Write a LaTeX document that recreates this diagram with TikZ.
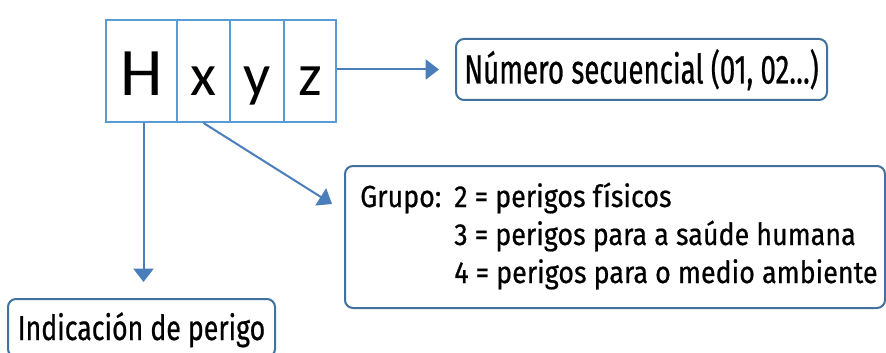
\documentclass[tikz,border=0pt]{standalone}
\usepackage{fontspec}
\setmainfont{Fira Sans}
\newfontfamily\numfont[FakeStretch=0.68, FakeBold=0.6]{Fira Sans}
\newfontfamily\indfont[FakeStretch=0.77, FakeBold=0.6]{Fira Sans}
\newfontfamily\grpfont[FakeStretch=0.88, FakeBold=0.6]{Fira Sans}
\newfontfamily\cellfont{Carlito}
\usetikzlibrary{arrows.meta}
\newdimen\pxu \pxu=0.75pt
\definecolor{cellblue}{HTML}{5B9BD5}
\definecolor{arrowblue}{HTML}{4A7EBB}
\definecolor{boxblue}{HTML}{41719C}
\begin{document}
\begin{tikzpicture}[x=0.75pt,y=-0.75pt,
  cell/.style={draw=cellblue, line width=1.5pt, inner sep=0pt, minimum height=102\pxu,
    text height=50\pxu, text depth=0pt, anchor=north west},
  bigletter/.style={font=\cellfont\fontsize{51}{51}\selectfont},
  smallletter/.style={font=\cellfont\fontsize{45}{45}\selectfont},
  rbox/.style={draw=boxblue, line width=1.5pt, rounded corners=8\pxu, inner sep=0pt},
  conn/.style={draw=arrowblue, line width=1.5pt, -{Triangle[length=10pt,width=15pt]}}]
\useasboundingbox (0,0) rectangle (886,353);
% code table
\node[cell, bigletter, minimum width=71\pxu] (H) at (105,19) {H};
\node[cell, smallletter, minimum width=53\pxu] (x) at (176,19) {x};
\node[cell, smallletter, minimum width=54\pxu] (y) at (229,19) {y};
\node[cell, smallletter, minimum width=52\pxu] (z) at (283,19) {z};
% boxes
\node[rbox, minimum width=371\pxu, minimum height=61\pxu, text height=28\pxu, text depth=0pt,
  font=\numfont\fontsize{30.5}{36}\selectfont] (num) at (641.5,69.5) {Número secuencial (01, 02…)};
\node[rbox, minimum width=267\pxu, minimum height=58\pxu, text height=24\pxu, text depth=0pt,
  font=\indfont\fontsize{26}{30}\selectfont] (ind) at (141.5,328) {Indicación de perigo};
\node[rbox, anchor=north west, minimum width=540\pxu, minimum height=142\pxu] (grupo) at (344,165) {};
\node[anchor=base west, inner sep=0pt, font=\grpfont\fontsize{22.9}{28.5}\selectfont] (gtxt) at (360,207)
  {\begin{tabular}[t]{@{}p{94\pxu}@{}l@{}}
   Grupo: & 2 = perigos físicos\\
   & 3 = perigos para a saúde humana\\
   & 4 = perigos para o medio ambiente
   \end{tabular}};
% connectors
\coordinate (gtip) at (332,204);
\draw[conn, shorten >=16\pxu] (z.east |- num.west) -- (num.west);
\draw[conn, shorten >=16\pxu] ([xshift=2\pxu]H.south) -- ([xshift=2\pxu]H.south |- ind.north);
\draw[conn] (x.south) -- (gtip);
\end{tikzpicture}
\end{document}
